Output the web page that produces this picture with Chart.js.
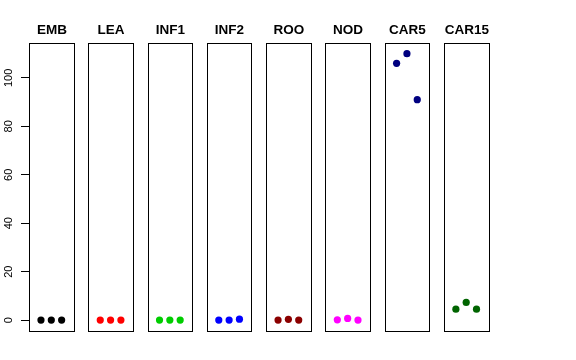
<!DOCTYPE html>
<html>
<head>
<meta charset="utf-8">
<script src="https://cdn.jsdelivr.net/npm/chart.js@4.4.1/dist/chart.umd.min.js"></script>
<style>
html,body{margin:0;padding:0;background:#fff;}
canvas{display:block;}
</style>
</head>
<body>
<canvas id="c" width="576" height="360"></canvas>
<script>
// ---- data ----
const categories = ['EMB','LEA','INF1','INF2','ROO','NOD','CAR5','CAR15'];
const replicates = [1, 2, 3];
const EMB   = [0, 0, 0];
const LEA   = [0, 0, 0];
const INF1  = [0, 0, 0];
const INF2  = [0, 0, 0.4];
const ROO   = [0, 0.3, 0];
const NOD   = [0.1, 0.7, 0];
const CAR5  = [106, 110, 91];
const CAR15 = [4.5, 7.3, 4.5];
const yTicks = [0, 20, 40, 60, 80, 100];
const colors = ['#000000','#FF0000','#00CD00','#0000FF','#8B0000','#FF00FF','#000080','#006400'];

const seriesValues = [EMB, LEA, INF1, INF2, ROO, NOD, CAR5, CAR15];

// panel geometry in x-scale units
const LMIN = -0.16, LMAX = 4.16;
const PW = LMAX - LMIN;      // panel width
const PITCH = 5.74;          // panel pitch
const XMAX = PITCH * (categories.length - 1) + PW;

const datasets = categories.map((cat, i) => ({
  label: cat,
  data: seriesValues[i].map((v, k) => ({ x: i * PITCH + (replicates[k] - LMIN), y: v })),
  backgroundColor: colors[i],
  borderColor: colors[i],
  pointRadius: 3.6,
  pointHoverRadius: 3.6,
  borderWidth: 0,
  showLine: false
}));

const panelPlugin = {
  id: 'panels',
  afterDatasetsDraw(chart) {
    const ctx = chart.ctx;
    const xs = chart.scales.x;
    const ys = chart.scales.y;
    const area = chart.chartArea;
    ctx.save();
    ctx.strokeStyle = '#000';
    ctx.lineWidth = 1;
    categories.forEach((cat, i) => {
      const x0 = Math.round(xs.getPixelForValue(i * PITCH)) + 0.5;
      const x1 = Math.round(xs.getPixelForValue(i * PITCH + PW)) + 0.5;
      const y0 = Math.round(area.top) + 0.5;
      const y1 = Math.round(area.bottom) + 0.5;
      ctx.strokeRect(x0, y0, x1 - x0, y1 - y0);
      ctx.fillStyle = '#000';
      ctx.font = 'bold 13.5px "Liberation Sans", Arial, sans-serif';
      ctx.textAlign = 'center';
      ctx.textBaseline = 'alphabetic';
      ctx.fillText(cat, (x0 + x1) / 2, area.top - 9);
    });
    // rotated y tick labels (R style)
    ctx.font = '11px "Liberation Sans", Arial, sans-serif';
    ctx.textAlign = 'center';
    ctx.textBaseline = 'middle';
    yTicks.forEach(v => {
      const py = ys.getPixelForValue(v);
      ctx.save();
      ctx.translate(8.5, py);
      ctx.rotate(-Math.PI / 2);
      ctx.fillText(String(v), 0, 0);
      ctx.restore();
    });
    ctx.restore();
  }
};

new Chart(document.getElementById('c'), {
  type: 'scatter',
  data: { datasets },
  options: {
    responsive: false,
    animation: false,
    devicePixelRatio: 1,
    layout: { padding: { top: 43, bottom: 29, left: 0, right: 87.5 } },
    plugins: { legend: { display: false }, tooltip: { enabled: false }, title: { display: false } },
    scales: {
      x: {
        type: 'linear', min: 0, max: XMAX, display: false
      },
      y: {
        type: 'linear', min: -4.5, max: 114.4,
        afterBuildTicks(scale) { scale.ticks = yTicks.map(v => ({ value: v })); },
        afterFit(scale) { scale.width = 29; },
        border: { display: false },
        grid: { drawOnChartArea: false, drawTicks: true, tickLength: 8, color: '#000', tickColor: '#000', tickWidth: 1 },
        ticks: { display: false }
      }
    }
  },
  plugins: [panelPlugin]
});
</script>
</body>
</html>
